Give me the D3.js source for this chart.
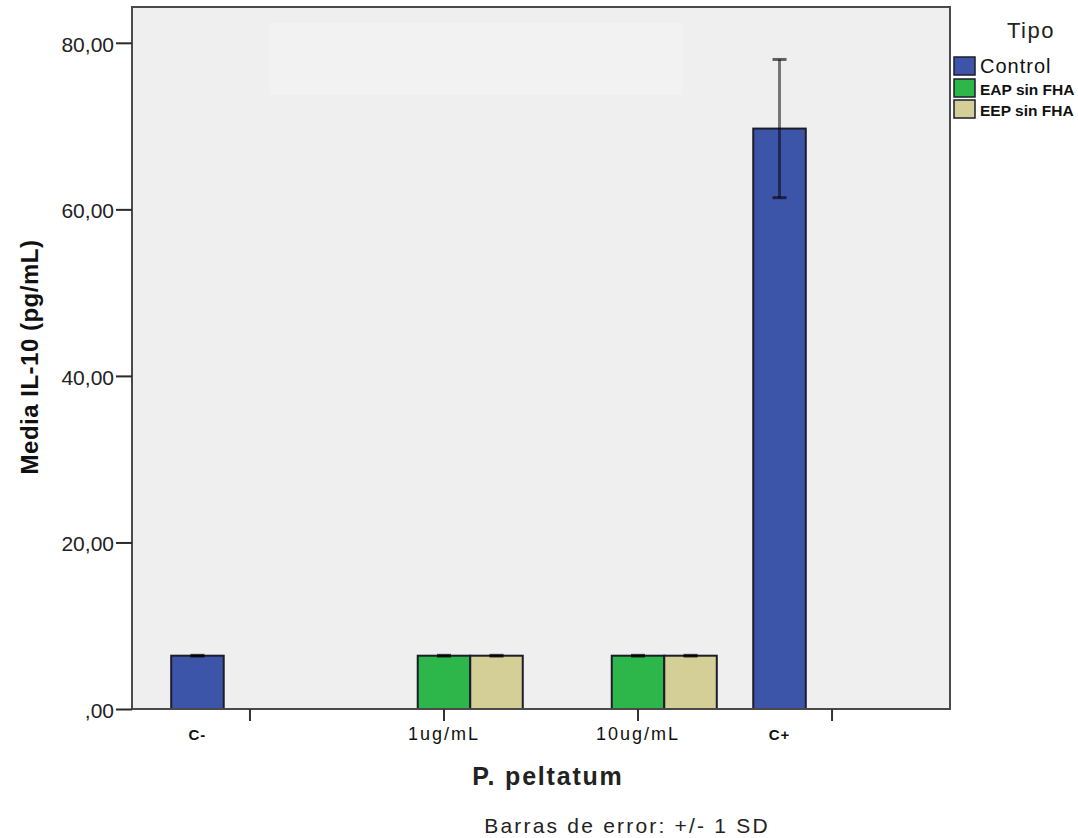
<!DOCTYPE html>
<html>
<head>
<meta charset="utf-8">
<script src="https://cdn.jsdelivr.net/npm/d3@7"></script>
<style>
  html, body { margin: 0; padding: 0; background: #ffffff; }
  svg { display: block; font-family: "Liberation Sans", Arial, sans-serif; }
</style>
</head>
<body>
<svg id="chart" width="1078" height="838"></svg>
<script>
// Categories along the x axis (dose groups)
const categories = ["C-", "1ug/mL", "10ug/mL", "C+"];
// Series (Tipo)
const seriesNames = ["Control", "EAP sin FHA", "EEP sin FHA"];
const seriesColors = ["#3d55a9", "#2db649", "#d4cf97"];
// Mean IL-10 (pg/mL) per category, per series; null = no bar
const controlMeans = [6.4, null, null, 69.7];
const eapMeans     = [null, 6.4, 6.4, null];
const eepMeans     = [null, 6.4, 6.4, null];
// Standard deviation per category, per series
const controlSD = [0.05, null, null, 8.3];
const eapSD     = [null, 0.05, 0.05, null];
const eepSD     = [null, 0.05, 0.05, null];
// Y axis ticks
const yTicks = [0, 20, 40, 60, 80];

const meansBySeries = [controlMeans, eapMeans, eepMeans];
const sdBySeries = [controlSD, eapSD, eepSD];

const bars = [];
categories.forEach((c, i) => {
  seriesNames.forEach((s, j) => {
    const v = meansBySeries[j][i];
    if (v != null) bars.push({ cat: c, series: s, idx: j, value: v, sd: sdBySeries[j][i] });
  });
});

const svg = d3.select("#chart");
const plot = { left: 132, right: 950, top: 7, bottom: 709 };

const x0 = d3.scaleBand()
  .domain(categories)
  .range([plot.left, plot.right])
  .paddingInner(0.188)
  .paddingOuter(0.202);

const x1 = d3.scaleBand()
  .domain(seriesNames)
  .range([0, x0.bandwidth()])
  .padding(0);

const y = d3.scaleLinear()
  .domain([0, 84.3])
  .range([plot.bottom, plot.top]);

const color = d3.scaleOrdinal().domain(seriesNames).range(seriesColors);

// Plot background
svg.append("rect")
  .attr("x", plot.left).attr("y", plot.top)
  .attr("width", plot.right - plot.left).attr("height", plot.bottom - plot.top)
  .attr("fill", "#efefef");

// Faint lighter patch in the upper plot area
svg.append("rect")
  .attr("x", 270).attr("y", 23).attr("width", 412).attr("height", 72)
  .attr("fill", "#f2f2f2");

// Bars
svg.append("g").selectAll("rect")
  .data(bars)
  .join("rect")
  .attr("x", d => x0(d.cat) + x1(d.series))
  .attr("y", d => y(d.value))
  .attr("width", x1.bandwidth())
  .attr("height", d => y(0) - y(d.value))
  .attr("fill", d => color(d.series))
  .attr("stroke", "#1c1c2a")
  .attr("stroke-width", 2);

// Error bars (+/- 1 SD)
const eb = svg.append("g").selectAll("g")
  .data(bars)
  .join("g")
  .attr("transform", d => `translate(${x0(d.cat) + x1(d.series) + x1.bandwidth() / 2},0)`);
eb.append("line")
  .attr("y1", d => y(d.value + d.sd)).attr("y2", d => y(d.value - d.sd))
  .attr("stroke", "#000").attr("stroke-opacity", 0.5).attr("stroke-width", 3);
eb.selectAll("line.cap")
  .data(d => [d.value + d.sd, d.value - d.sd])
  .join("line")
  .attr("class", "cap")
  .attr("x1", -7).attr("x2", 7)
  .attr("y1", v => y(v)).attr("y2", v => y(v))
  .attr("stroke", "#000").attr("stroke-opacity", 0.6).attr("stroke-width", 3);

// Plot frame
svg.append("rect")
  .attr("x", plot.left).attr("y", plot.top)
  .attr("width", plot.right - plot.left).attr("height", plot.bottom - plot.top)
  .attr("fill", "none").attr("stroke", "#4a4a4a").attr("stroke-width", 2);

// Y axis
const yAxis = svg.append("g")
  .attr("transform", `translate(${plot.left},0)`)
  .call(d3.axisLeft(y).tickValues(yTicks).tickSize(16).tickPadding(2)
    .tickFormat(v => v === 0 ? ",00" : d3.format(".2f")(v).replace(".", ",")));
yAxis.select(".domain").remove();
yAxis.selectAll(".tick line").attr("stroke", "#2a2a2a").attr("stroke-width", 2);
yAxis.selectAll(".tick text")
  .attr("fill", "#222").attr("dy", "0.4em").style("font-size", "21px")
  .style("font-family", "'Liberation Sans', Arial, sans-serif");

// X axis: tick marks at cluster centres
const xAxis = svg.append("g")
  .attr("transform", `translate(0,${plot.bottom})`)
  .call(d3.axisBottom(x0).tickSize(12).tickFormat(""));
xAxis.select(".domain").remove();
xAxis.selectAll(".tick line").attr("stroke", "#333").attr("stroke-width", 2);

// X category labels: controls sit under their Control bar, doses at the cluster centre
const isControl = c => c === "C-" || c === "C+";
const labelX = c => isControl(c)
  ? x0(c) + x1("Control") + x1.bandwidth() / 2
  : x0(c) + x0.bandwidth() / 2;
svg.append("g").selectAll("text")
  .data(categories)
  .join("text")
  .attr("x", d => labelX(d))
  .attr("y", 740)
  .attr("text-anchor", "middle")
  .attr("fill", "#111")
  .style("font-size", d => isControl(d) ? "15px" : "18px")
  .style("font-weight", d => isControl(d) ? "bold" : "normal")
  .style("letter-spacing", d => isControl(d) ? "1px" : "2px")
  .text(d => d);

// Axis titles
svg.append("text")
  .attr("transform", "translate(38,357) rotate(-90)")
  .attr("text-anchor", "middle")
  .attr("fill", "#111")
  .style("font-size", "24px").style("font-weight", "bold")
  .style("letter-spacing", "0.5px")
  .text("Media IL-10 (pg/mL)");

svg.append("text")
  .attr("x", 548).attr("y", 785)
  .attr("text-anchor", "middle")
  .attr("fill", "#222")
  .style("font-size", "25px").style("font-weight", "bold")
  .style("letter-spacing", "1.8px")
  .text("P. peltatum");

svg.append("text")
  .attr("x", 627).attr("y", 833)
  .attr("text-anchor", "middle")
  .attr("fill", "#222")
  .style("font-size", "21px").style("letter-spacing", "2.2px")
  .text("Barras de error: +/- 1 SD");

// Legend
const legend = svg.append("g");
legend.append("text")
  .attr("x", 1031).attr("y", 38)
  .attr("text-anchor", "middle")
  .attr("fill", "#222")
  .style("font-size", "22px").style("letter-spacing", "1.5px")
  .text("Tipo");
const legendRowY = [57, 79, 100];
const items = legend.selectAll("g.item")
  .data(seriesNames)
  .join("g")
  .attr("class", "item")
  .attr("transform", (d, i) => `translate(954,${legendRowY[i]})`);
items.append("rect")
  .attr("width", 21).attr("height", 18)
  .attr("fill", d => color(d))
  .attr("stroke", "#1c1c2a").attr("stroke-width", 1.5);
items.append("text")
  .attr("x", 26).attr("y", 16)
  .attr("fill", "#111")
  .style("font-size", (d, i) => i === 0 ? "20px" : "15.5px")
  .style("font-weight", (d, i) => i === 0 ? "normal" : "bold")
  .style("letter-spacing", (d, i) => i === 0 ? "1px" : "0px")
  .text(d => d);
</script>
</body>
</html>
